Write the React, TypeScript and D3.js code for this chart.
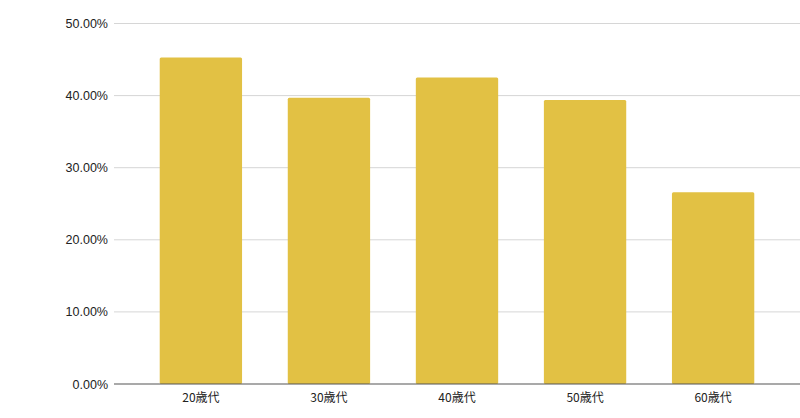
import { useEffect, useRef } from "react";
import * as d3 from "d3";

const categories = ["20歳代", "30歳代", "40歳代", "50歳代", "60歳代"];
const values = [0.453, 0.397, 0.425, 0.394, 0.266];
const yTicks = [0, 0.1, 0.2, 0.3, 0.4, 0.5];

export default function App() {
  const svgRef = useRef<SVGSVGElement>(null);

  useEffect(() => {
    if (!svgRef.current) return;
    const width = 800;
    const height = 418;

    const svg = d3.select(svgRef.current);
    svg.selectAll("*").remove();
    svg.attr("viewBox", `0 0 ${width} ${height}`).attr("width", width).attr("height", height);

    const x = d3.scaleBand().domain(categories).range([114, 800]).padding(0.357);
    const y = d3.scaleLinear().domain([0, 0.5]).range([384, 23.5]);

    // gridlines + y labels
    svg
      .selectAll(".grid")
      .data(yTicks.slice(1))
      .enter()
      .append("line")
      .attr("x1", 114)
      .attr("x2", 800)
      .attr("y1", (d) => y(d))
      .attr("y2", (d) => y(d))
      .attr("stroke", "#d6d6d6")
      .attr("stroke-width", 1);

    svg
      .selectAll(".ylab")
      .data(yTicks)
      .enter()
      .append("text")
      .attr("x", 108)
      .attr("y", (d) => y(d) + 4.5)
      .attr("text-anchor", "end")
      .attr("fill", "#222")
      .attr("font-family", "Liberation Sans, Arial, sans-serif")
      .attr("font-size", 12.5)
      .text((d) => d3.format(".2%")(d));

    // bars
    svg
      .selectAll(".bar")
      .data(values)
      .enter()
      .append("rect")
      .attr("x", (_, i) => x(categories[i]) || 0)
      .attr("y", (d) => y(d))
      .attr("width", x.bandwidth())
      .attr("height", (d) => y(0) - y(d))
      .attr("rx", 1.5)
      .attr("fill", "#E2C144");

    // baseline
    svg
      .append("line")
      .attr("x1", 114)
      .attr("x2", 800)
      .attr("y1", y(0))
      .attr("y2", y(0))
      .attr("stroke", "#555")
      .attr("stroke-width", 1.2);

    // x labels
    svg
      .selectAll(".xlab")
      .data(categories)
      .enter()
      .append("text")
      .attr("x", (d) => (x(d) || 0) + x.bandwidth() / 2)
      .attr("y", 402)
      .attr("text-anchor", "middle")
      .attr("fill", "#222")
      .attr("font-family", "Noto Sans CJK JP, sans-serif")
      .attr("font-size", 12)
      .text((d) => d);
  }, []);

  return (
    <div style={{ position: "absolute", left: 0, top: 0, width: 800, height: 418, background: "#fff" }}>
      <svg ref={svgRef} style={{ display: "block" }} />
    </div>
  );
}
